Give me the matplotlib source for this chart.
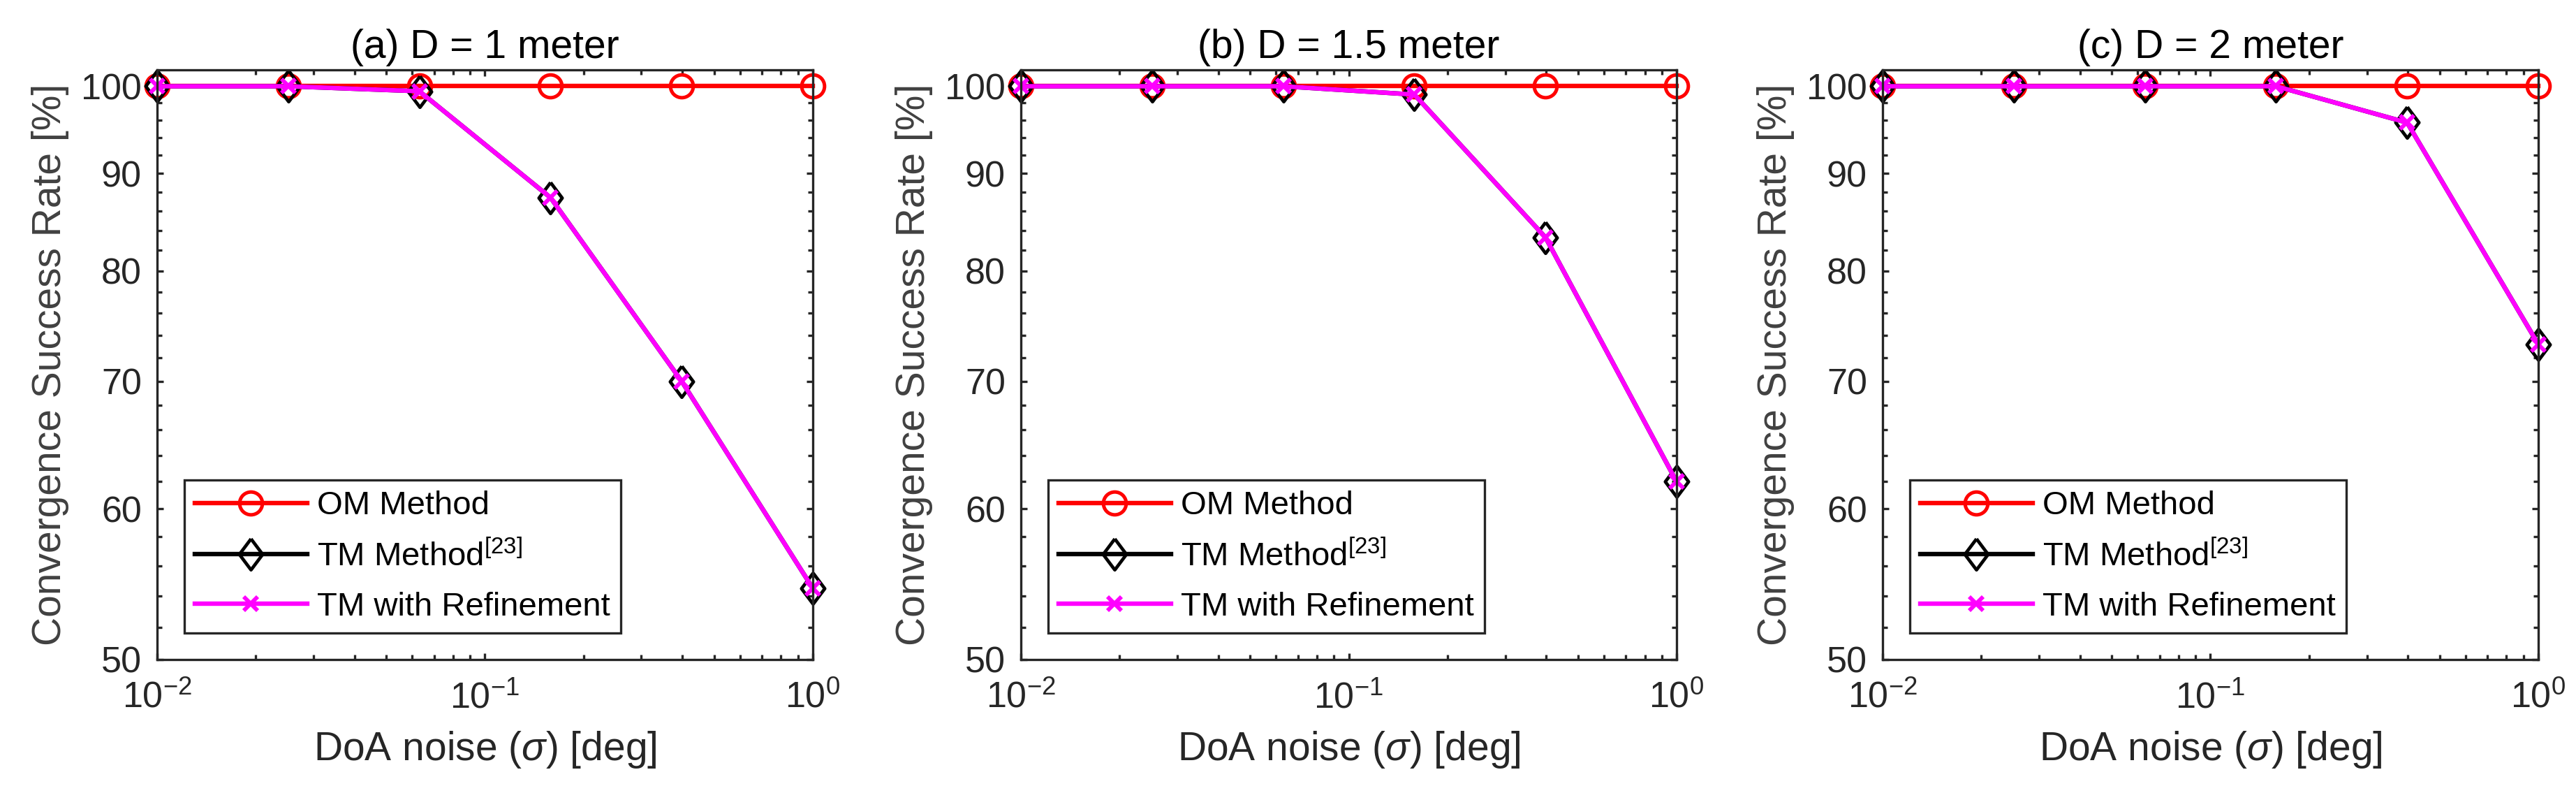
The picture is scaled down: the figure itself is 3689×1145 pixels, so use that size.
import numpy as np
import matplotlib.pyplot as plt
from matplotlib.ticker import FixedLocator, FixedFormatter, LogLocator, NullFormatter, LogFormatterSciNotation

plt.rcParams['font.family'] = ['Liberation Sans', 'DejaVu Sans']
plt.rcParams['mathtext.fontset'] = 'custom'
plt.rcParams['mathtext.rm'] = 'Liberation Sans'
plt.rcParams['mathtext.it'] = 'Liberation Sans:italic'

# DoA noise levels (deg)
noise = [0.01, 0.0251, 0.0631, 0.1585, 0.3981, 1.0]

# convergence success rate [%] per panel
om_a = [100, 100, 100, 100, 100, 100]
tm_a = [100, 100, 99.4, 87.4, 70.0, 54.5]
ref_a = [100, 100, 99.4, 87.4, 70.0, 54.5]

om_b = [100, 100, 100, 100, 100, 100]
tm_b = [100, 100, 100, 99.0, 83.3, 62.0]
ref_b = [100, 100, 100, 99.0, 83.3, 62.0]

om_c = [100, 100, 100, 100, 100, 100]
tm_c = [100, 100, 100, 100, 95.7, 73.2]
ref_c = [100, 100, 100, 100, 95.7, 73.2]

titles = ['(a) D = 1 meter', '(b) D = 1.5 meter', '(c) D = 2 meter']
labels = ['OM Method', 'TM Method$^{[23]}$', 'TM with Refinement']
yticks = [50, 60, 70, 80, 90, 100]
yminor = [v for v in range(52, 100, 2) if v % 10 != 0]

panels = [(om_a, tm_a, ref_a), (om_b, tm_b, ref_b), (om_c, tm_c, ref_c)]
lefts = [0.06099, 0.39632, 0.73082]
diamond = [(0, 1), (0.75, 0), (0, -1), (-0.75, 0), (0, 1)]
axcol = '#262626'

fig = plt.figure(figsize=(36.89, 11.45), dpi=100)
for i, (om, tm, ref) in enumerate(panels):
    ax = fig.add_axes([lefts[i], 0.17555, 0.25454, 0.7371])
    ax.plot(noise, om, color='#ff0000', lw=4.6, marker='o', ms=23.5, mfc='none', mew=3.6,
            clip_on=False, label=labels[0])
    ax.plot(noise, tm, color='k', lw=4.6, marker=diamond, ms=32, mfc='none', mew=3.4,
            clip_on=False, label=labels[1])
    ax.plot(noise, ref, color='#ff00ff', lw=4.6, marker='x', ms=15, mew=4.2,
            clip_on=False, label=labels[2])
    ax.set_xscale('log')
    ax.set_yscale('log')
    ax.set_xlim(0.01, 1)
    ax.set_ylim(50, 102)

    ax.xaxis.set_major_locator(LogLocator(base=10, numticks=10))
    ax.xaxis.set_major_formatter(LogFormatterSciNotation())
    ax.xaxis.set_minor_locator(LogLocator(base=10, subs=np.arange(2, 10), numticks=10))
    ax.xaxis.set_minor_formatter(NullFormatter())
    ax.yaxis.set_major_locator(FixedLocator(yticks))
    ax.yaxis.set_major_formatter(FixedFormatter([str(v) for v in yticks]))
    ax.yaxis.set_minor_locator(FixedLocator(yminor))
    ax.yaxis.set_minor_formatter(NullFormatter())

    ax.tick_params(which='both', direction='in', top=True, right=True, color=axcol,
                   width=2.4, labelsize=37.5, labelcolor=axcol)
    ax.tick_params(which='major', length=6.8)
    ax.tick_params(which='minor', length=4.7)
    ax.tick_params(axis='y', pad=16)
    ax.tick_params(axis='x', pad=22)
    for s in ax.spines.values():
        s.set_color(axcol)
        s.set_linewidth(2.4)

    ax.set_title(titles[i], fontsize=41, pad=12, color='k')
    ax.set_xlabel(r'DoA noise ($\sigma$) [deg]', fontsize=41, color=axcol, labelpad=14)
    ax.set_ylabel('Convergence Success Rate [%]', fontsize=41, color='#404040', labelpad=12)

    leg = ax.legend(loc='lower left', bbox_to_anchor=(0.0415, 0.045), borderaxespad=0,
                    fontsize=34, handlelength=3.4, handletextpad=0.3, borderpad=0.32,
                    labelspacing=0.58, fancybox=False, edgecolor=axcol, framealpha=1)
    leg.get_frame().set_linewidth(2.4)
    for t in leg.get_texts():
        t.set_color('k')

fig.savefig('out.png', dpi=100)
